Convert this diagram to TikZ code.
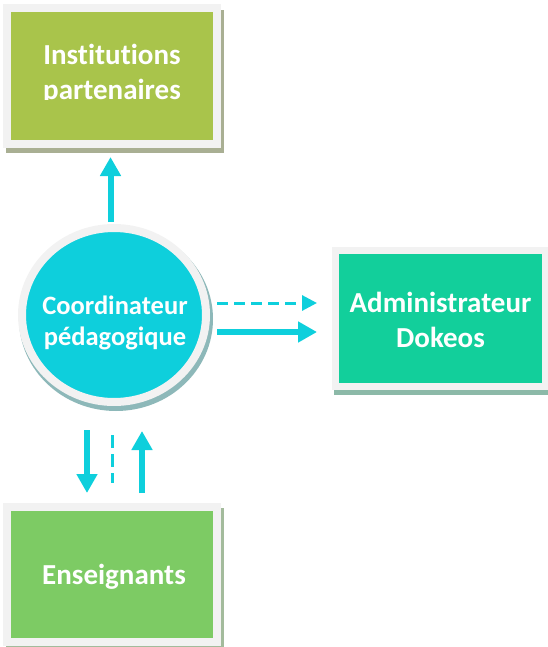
\documentclass[tikz,border=0pt]{standalone}
\usepackage{fontspec}
\setmainfont{Carlito}[Ligatures={NoCommon}]
\usetikzlibrary{arrows.meta,shapes.geometric}
\definecolor{cyanA}{HTML}{0ECFDC}
\definecolor{greenTop}{HTML}{A9C44B}
\definecolor{tealBox}{HTML}{12CF9B}
\definecolor{greenBot}{HTML}{7DCB64}
\definecolor{frameC}{HTML}{F2F2F2}
\definecolor{shTop}{HTML}{A9AF93}
\definecolor{shAdm}{HTML}{8CB9A8}
\definecolor{shBot}{HTML}{A3BB9C}
\definecolor{shCirc}{HTML}{8DB8B9}
\tikzset{
  boxnode/.style={rectangle, draw=frameC, line width=8pt, inner sep=0pt,
    minimum width=210pt, minimum height=136pt},
  lbl/.style={text=white, font=\bfseries\fontsize{29}{35}\selectfont, align=center, inner sep=0pt},
  clbl/.style={text=white, font=\bfseries\fontsize{26.5}{31}\selectfont, align=center, inner sep=0pt},
  flow/.style={draw=cyanA, line width=6pt, -{Triangle[length=19pt,width=20pt]}},
  dflow/.style={draw=cyanA, line width=3pt, dash pattern=on 11pt off 6pt, -{Triangle[length=15pt,width=15pt]}},
  dline/.style={draw=cyanA, line width=3pt, dash pattern=on 13pt off 6pt},
}
\begin{document}
\begin{tikzpicture}[x=1pt,y=-1pt]
\useasboundingbox (0,0) rectangle (547,647);
% shadows
\fill[shTop] (6,10) rectangle (224,153);
\fill[shAdm] (334,252) rectangle (552,395);
\fill[shBot] (6,508) rectangle (224,652);
\fill[shCirc] (116,319) ellipse [x radius=97pt, y radius=92pt];
% boxes
\node[boxnode, fill=greenTop] (inst) at (112,76) {};
\begin{scope}
\clip (11,12) rectangle (213,100);
\node[lbl] (instlbl) at ([yshift=2pt]inst.center) {Institutions\\partenaires};
\end{scope}
\node[boxnode, fill=tealBox, line width=7pt] (adm) at (440.5,318.5) {};
\node[lbl] (admlbl) at ([yshift=-1pt]adm.center) {Administrateur\\Dokeos};
\node[boxnode, fill=greenBot, minimum height=135pt] (ens) at (112,574.5) {};
\node[lbl] (enslbl) at ([xshift=2pt,yshift=-2pt]ens.center) {Enseignants};
% circle
\node[ellipse, fill=cyanA, draw=frameC, line width=8pt, inner sep=0pt,
  minimum width=184pt, minimum height=174pt] (coord) at (114,315) {};
\node[clbl] (coordlbl) at ([xshift=1pt,yshift=-8pt]coord.center) {Coordinateur\\pédagogique};
% connectors
\draw[flow] ([xshift=-3.5pt,yshift=2pt]coord.north) -- ([xshift=-1.5pt,yshift=-9pt]inst.south);
\draw[dflow] ([xshift=7pt,yshift=12pt]coord.east) -- ([xshift=-15pt,yshift=15.5pt]adm.west);
\draw[flow] ([xshift=7pt,yshift=-17pt]coord.east) -- ([xshift=-15pt,yshift=-13.5pt]adm.west);
\draw[flow] ([xshift=-27pt,yshift=-24pt]coord.south) -- ([xshift=-25pt,yshift=10pt]ens.north);
\draw[dline] ([xshift=-2pt,yshift=-29pt]coord.south) -- ([yshift=20pt]ens.north);
\draw[flow] ([xshift=30pt,yshift=10pt]ens.north) -- ([xshift=28pt,yshift=-25pt]coord.south);
\end{tikzpicture}
\end{document}
